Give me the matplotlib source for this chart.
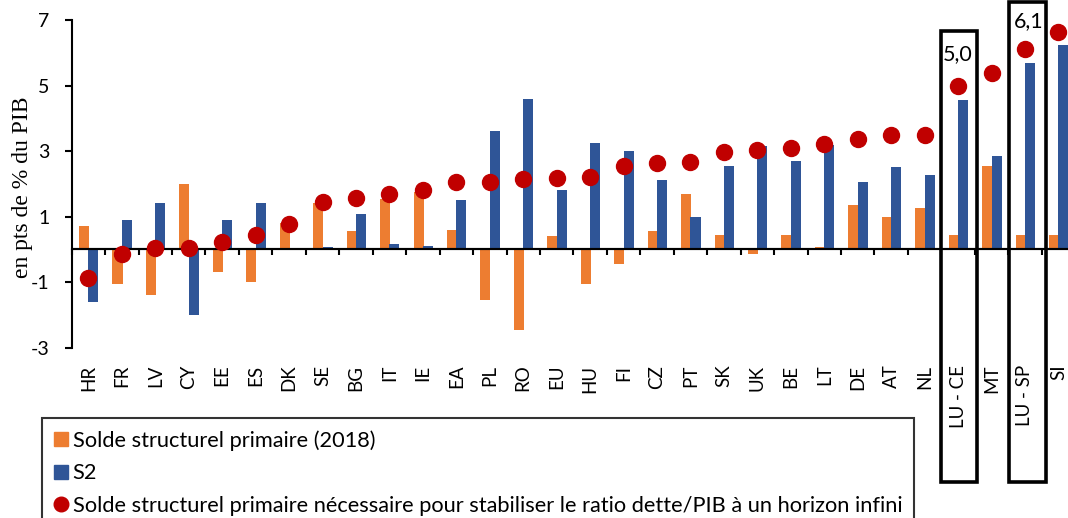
import matplotlib
matplotlib.use("Agg")
import matplotlib.pyplot as plt
from matplotlib.lines import Line2D
from matplotlib.patches import Rectangle
import numpy as np

categories = ["HR", "FR", "LV", "CY", "EE", "ES", "DK", "SE", "BG", "IT", "IE", "EA", "PL", "RO",
              "EU", "HU", "FI", "CZ", "PT", "SK", "UK", "BE", "LT", "DE", "AT", "NL",
              "LU - CE", "MT", "LU - SP", "SI"]
solde_2018 = [0.7, -1.05, -1.4, 2.0, -0.7, -1.0, 0.8, 1.4, 0.55, 1.55, 1.75, 0.6, -1.55, -2.45,
              0.4, -1.05, -0.45, 0.55, 1.7, 0.45, -0.15, 0.45, 0.07, 1.35, 1.0, 1.25,
              0.45, 2.55, 0.45, 0.45]
s2 = [-1.6, 0.9, 1.42, -2.0, 0.9, 1.42, 0.03, 0.07, 1.07, 0.15, 0.09, 1.5, 3.6, 4.6,
      1.8, 3.25, 3.0, 2.12, 0.98, 2.55, 3.14, 2.7, 3.17, 2.06, 2.52, 2.27,
      4.56, 2.85, 5.7, 6.23]
solde_necessaire = [-0.88, -0.15, 0.03, 0.05, 0.23, 0.44, 0.78, 1.45, 1.58, 1.68, 1.8, 2.06, 2.07, 2.16,
                    2.17, 2.21, 2.55, 2.65, 2.66, 2.96, 3.03, 3.1, 3.22, 3.38, 3.49, 3.5,
                    5.0, 5.37, 6.12, 6.63]
yticks = [-3, -1, 1, 3, 5, 7]
highlight = ["LU - CE", "LU - SP"]

ORANGE = "#ED7D31"
BLUE = "#2F5597"
RED = "#C00000"
TICKFONT = "Lato"

fig = plt.figure(figsize=(10.68, 5.18), dpi=100)
ax = fig.add_axes([0.0671, 0.3288, 0.9396, 0.6326])

x = np.arange(len(categories))
w = 0.30
ax.bar(x - 0.13, solde_2018, width=w, color=ORANGE, zorder=2)
ax.bar(x + 0.15, s2, width=w, color=BLUE, zorder=2)
ax.plot(x, solde_necessaire, linestyle="none", marker="o", markersize=11.5,
        color=RED, zorder=4)

ax.set_xlim(-0.5, len(categories) - 0.5)
ax.set_ylim(-3, 7)
ax.set_yticks(yticks)
ax.set_yticklabels([str(v) for v in yticks], fontfamily=TICKFONT, fontsize=14)
ax.tick_params(axis="y", direction="out", length=4.8, width=1.5, pad=11, colors="black")

ax.spines["bottom"].set_position(("data", 0))
ax.spines["bottom"].set_linewidth(1.5)
ax.spines["bottom"].set_zorder(3)
ax.axhline(0, color="black", linewidth=1.5, zorder=3)
ax.set_xticks(x)
ax.set_xticklabels(categories, rotation=90, fontfamily=TICKFONT, fontsize=13.5, va="top")
ax.set_xticks(np.arange(-0.5, len(categories) + 0.5, 1.0), minor=True)
ax.tick_params(axis="x", which="major", length=0, pad=83)
ax.tick_params(axis="x", which="minor", direction="out", length=4.5, width=1.5, color="black")

for s in ["top", "right"]:
    ax.spines[s].set_visible(False)
ax.spines["left"].set_linewidth(1.5)

ax.set_ylabel("en pts de % du PIB", fontfamily="Liberation Serif", fontsize=17)
ax.yaxis.set_label_coords(-0.0386, 0.49)

box_geom = {"LU - CE": (-0.51, 0.58, -7.09, 6.66), "LU - SP": (-0.48, 0.63, -7.09, 7.55)}
label_pos = {"LU - CE": (0.0, 5.97), "LU - SP": (0.1, 6.96)}
for name in highlight:
    i = categories.index(name)
    l, r, b, t = box_geom[name]
    ax.add_patch(Rectangle((i + l, b), r - l, t - b, fill=False, edgecolor="black",
                           linewidth=2.6, clip_on=False, zorder=6))
    dx, yy = label_pos[name]
    ax.text(i + dx, yy, f"{solde_necessaire[i]:.1f}".replace(".", ","), ha="center", va="center",
            fontfamily=TICKFONT, fontsize=15.5, zorder=7)

handles = [
    Line2D([], [], linestyle="none", marker="s", markersize=10, color=ORANGE),
    Line2D([], [], linestyle="none", marker="s", markersize=10, color=BLUE),
    Line2D([], [], linestyle="none", marker="o", markersize=10.5, color=RED),
]
labels = ["Solde structurel primaire (2018)", "S2",
          "Solde structurel primaire nécessaire pour stabiliser le ratio dette/PIB à un horizon infini"]
leg = fig.legend(handles, labels, loc="upper left", bbox_to_anchor=(0.0395, 0.1931),
                 frameon=True, fancybox=False, handlelength=0.6, handletextpad=0.25,
                 borderaxespad=0, borderpad=0.55, labelspacing=0.58,
                 prop={"family": TICKFONT, "size": 15.7})
leg.get_frame().set_edgecolor("black")
leg.get_frame().set_linewidth(1.5)

fig.savefig("out.png", dpi=100)
